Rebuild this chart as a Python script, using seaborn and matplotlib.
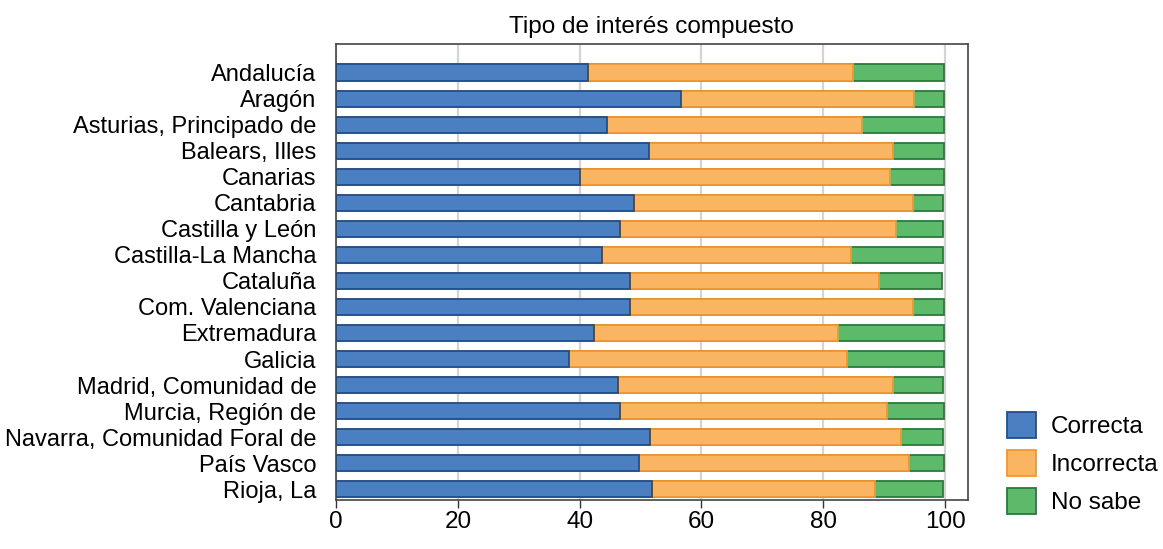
import matplotlib
matplotlib.use("Agg")
import matplotlib.pyplot as plt
import pandas as pd
import seaborn as sns
from matplotlib.patches import Patch

regions = [
    "Andalucía", "Aragón", "Asturias, Principado de", "Balears, Illes",
    "Canarias", "Cantabria", "Castilla y León", "Castilla-La Mancha",
    "Cataluña", "Com. Valenciana", "Extremadura", "Galicia",
    "Madrid, Comunidad de", "Murcia, Región de",
    "Navarra, Comunidad Foral de", "País Vasco", "Rioja, La",
]
correcta = [41.3, 56.7, 44.5, 51.4, 40.0, 48.9, 46.6, 43.6, 48.2, 48.2,
            42.3, 38.2, 46.3, 46.6, 51.6, 49.8, 51.8]
incorrecta = [43.6, 38.2, 41.8, 40.1, 50.9, 45.8, 45.4, 40.9, 41.0, 46.5,
              40.1, 45.7, 45.1, 43.8, 41.2, 44.3, 36.7]
no_sabe = [15.0, 4.9, 13.5, 8.4, 9.0, 5.0, 7.7, 15.1, 10.3, 5.2,
           17.5, 15.9, 8.2, 9.5, 6.9, 5.8, 11.2]

labels = ["Correcta", "Incorrecta", "No sabe"]
fills = ["#4a80c1", "#fab563", "#5dba6b"]
edges = ["#1f4f8f", "#f3962f", "#2a7a3a"]

df = pd.DataFrame({"region": regions, "c": correcta, "i": incorrecta, "n": no_sabe})
df["ci"] = df["c"] + df["i"]
df["cin"] = df["ci"] + df["n"]

plt.rcParams["font.family"] = ["Liberation Sans", "DejaVu Sans"]

fig = plt.figure(figsize=(11.63, 5.49), dpi=100)
ax = fig.add_axes([0.289, 0.089, 0.543, 0.831])

ax.set_axisbelow(True)
ax.grid(axis="x", color="#d4d4d4", linewidth=1.6)

# stacked bars: draw cumulative totals, widest first
for col, fc, ec in zip(["cin", "ci", "c"], fills[::-1], edges[::-1]):
    sns.barplot(data=df, x=col, y="region", orient="h", color=fc,
                edgecolor=ec, linewidth=1.3, width=0.62, saturation=1, ax=ax)

ax.set_xlim(0, 103.7)
ax.set_ylim(16.42, -1.1)
ax.set_xticks([0, 20, 40, 60, 80, 100])
ax.tick_params(axis="x", labelsize=17.5, length=6, width=1, color="#333333", pad=2)
ax.tick_params(axis="y", labelsize=17, length=0, pad=14)
ax.set_xlabel("")
ax.set_ylabel("")
for s in ax.spines.values():
    s.set_color("#444444")
    s.set_linewidth(1.2)
ax.set_title("Tipo de interés compuesto", fontsize=17.5, pad=8)

handles = [Patch(facecolor=f, edgecolor=e, linewidth=1.3) for f, e in zip(fills, edges)]
fig.legend(handles, labels, loc="upper left", bbox_to_anchor=(0.847, 0.29),
           frameon=False, fontsize=17.5, handlelength=1.2, handleheight=1.3,
           handletextpad=0.6, labelspacing=0.48)

fig.savefig("out.png", dpi=100)
